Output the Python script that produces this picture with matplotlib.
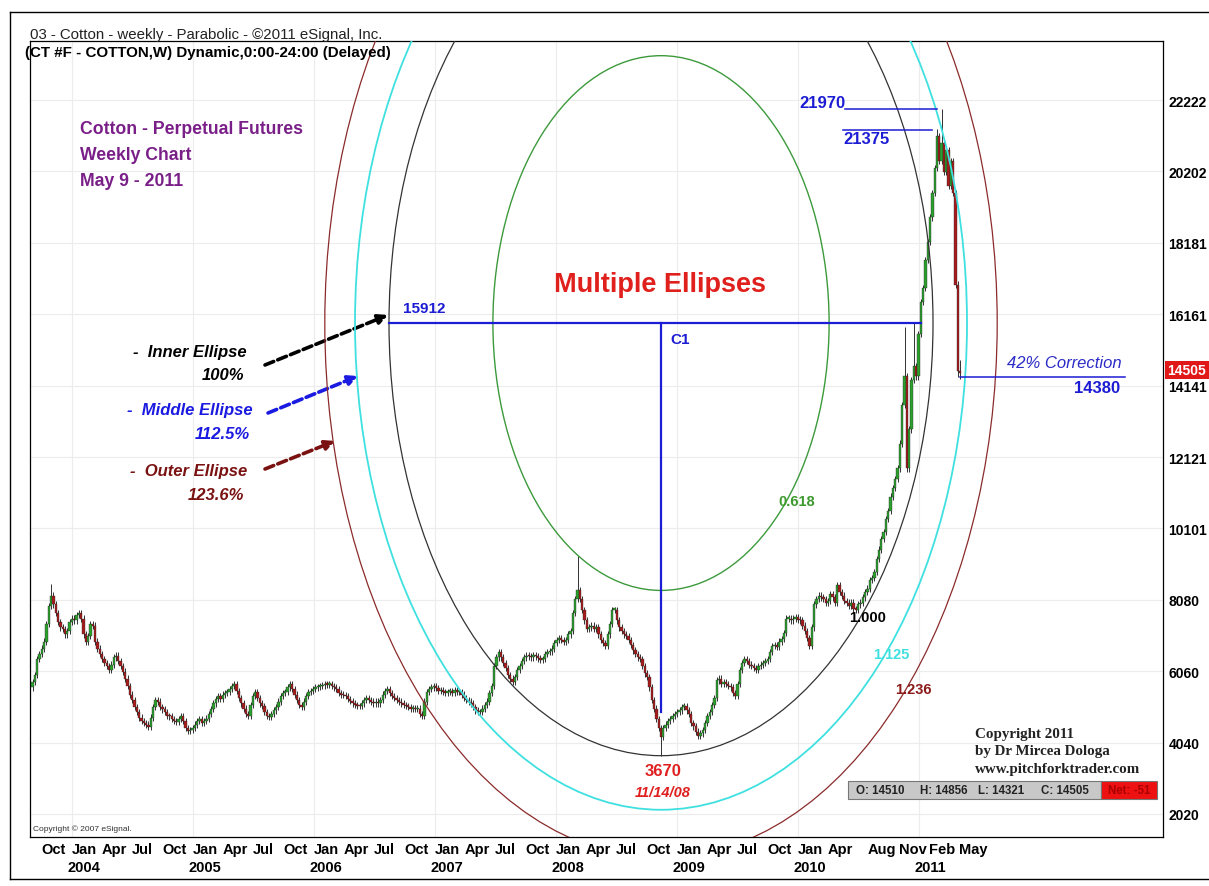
import matplotlib
matplotlib.use("Agg")
import matplotlib.pyplot as plt
import matplotlib.dates as mdates
from matplotlib.patches import Ellipse, Rectangle
from matplotlib.lines import Line2D
import pandas as pd

plt.rcParams['font.family'] = ['Liberation Sans', 'DejaVu Sans']

W, H = 1209, 887

# weekly closes, Sep 2003 .. May 2011
closes = [
    5750, 5950, 6400, 6550, 6700, 6900, 7400, 7900, 8200, 7950,
    7700, 7450, 7300, 7250, 7100, 7200, 7450, 7550, 7500, 7650,
    7700, 7550, 7100, 6900, 7050, 7400, 7350, 6900, 6700, 6550,
    6400, 6300, 6200, 6100, 6250, 6450, 6500, 6350, 6200, 6050,
    5850, 5650, 5400, 5250, 5050, 4900, 4750, 4650, 4600, 4550,
    4480, 4750, 5050, 5250, 5200, 5050, 4980, 4900, 4800, 4780,
    4700, 4650, 4620, 4700, 4780, 4650, 4450, 4370, 4400, 4450,
    4550, 4650, 4700, 4600, 4650, 4720, 4850, 4990, 5150, 5270,
    5350, 5280, 5400, 5450, 5470, 5550, 5650, 5700, 5500, 5300,
    5150, 5000, 4850, 4790, 5100, 5350, 5470, 5300, 5150, 5070,
    4900, 4800, 4760, 4850, 4950, 5050, 5200, 5350, 5450, 5480,
    5600, 5700, 5550, 5400, 5250, 5100, 5050, 5200, 5350, 5470,
    5500, 5550, 5600, 5620, 5640, 5660, 5700, 5680, 5700, 5650,
    5600, 5550, 5450, 5400, 5380, 5350, 5280, 5220, 5150, 5100,
    5080, 5070, 5150, 5250, 5300, 5250, 5200, 5150, 5200, 5150,
    5250, 5400, 5500, 5550, 5450, 5350, 5300, 5250, 5200, 5150,
    5100, 5070, 5050, 5000, 5020, 4990, 5000, 4850, 4790, 5200,
    5470, 5550, 5600, 5640, 5580, 5500, 5520, 5480, 5450, 5480,
    5500, 5450, 5520, 5480, 5480, 5400, 5300, 5250, 5200, 5150,
    5050, 4950, 4900, 4900, 5000, 5100, 5200, 5450, 5650, 6200,
    6450, 6600, 6450, 6300, 6150, 5950, 5850, 5750, 5900, 6100,
    6200, 6350, 6450, 6500, 6480, 6450, 6520, 6480, 6420, 6380,
    6400, 6550, 6600, 6620, 6700, 6850, 6950, 7000, 6950, 6900,
    6950, 7100, 7200, 7700, 8100, 8350, 8100, 7800, 7500, 7250,
    7300, 7350, 7250, 7300, 7100, 6950, 6850, 6770, 7100, 7400,
    7800, 7800, 7500, 7300, 7200, 7100, 7050, 6950, 6800, 6650,
    6550, 6450, 6400, 6200, 6000, 5900, 5600, 5250, 5000, 4700,
    4450, 4200, 4450, 4550, 4650, 4700, 4800, 4850, 4900, 4950,
    5050, 5070, 4950, 4850, 4600, 4500, 4350, 4230, 4300, 4400,
    4600, 4800, 4900, 5100, 5300, 5800, 5850, 5700, 5750, 5700,
    5650, 5600, 5450, 5350, 5700, 6100, 6300, 6400, 6350, 6250,
    6200, 6150, 6100, 6200, 6250, 6300, 6350, 6400, 6600, 6770,
    6800, 6750, 6900, 6970, 7150, 7550, 7550, 7500, 7550, 7600,
    7520, 7500, 7350, 7200, 7000, 6770, 7300, 7950, 8100, 8200,
    8150, 8100, 8000, 8050, 8250, 8150, 8000, 8500, 8300, 8200,
    8050, 8000, 7900, 8000, 7820, 7800, 7950, 8000, 8150, 8300,
    8400, 8650, 8700, 8860, 9230, 9500, 9800, 10000, 10360, 10600,
    11000, 11250, 11500, 11800, 12500, 13600, 14400, 11800, 12900, 14300,
    14700, 14400, 15600, 16500, 16900, 17700, 18200, 18900, 19600, 20300,
    21200, 20500, 21000, 20200, 20800, 19800, 20500, 19600, 17000, 14556,
    14505,
]
first_open = 5600
last_open = 14510
spike_highs = {8: 8520, 235: 9320, 376: 15800, 380: 15940, 390: 21400, 392: 21970, 400: 14856}
spike_lows = {271: 3670, 399: 14380, 400: 14321}
WICK = 90

dates = pd.date_range('2003-09-05', periods=len(closes), freq='7D')

y_ticks = [2020, 4040, 6060, 8080, 10101, 12121, 14141, 16161, 18181, 20202, 22222]

month_ticks = [('2003-10-01', 'Oct')]
for yr in range(2004, 2010):
    month_ticks += [(f'{yr}-01-01', 'Jan'), (f'{yr}-04-01', 'Apr'),
                    (f'{yr}-07-01', 'Jul'), (f'{yr}-10-01', 'Oct')]
month_ticks += [('2010-01-01', 'Jan'), ('2010-04-01', 'Apr'), ('2010-08-01', 'Aug'),
                ('2010-11-01', 'Nov'), ('2011-02-01', 'Feb'), ('2011-05-01', 'May')]
years = [2004, 2005, 2006, 2007, 2008, 2009, 2010, 2011]

# ellipse setup
c1_date = '2008-11-14'
c1_price = 15912
low_price = 3670
half_width_days = 821
ratios = [0.618, 1.0, 1.125, 1.236]
ell_colors = ['#3c9a3c', '#333333', '#3fe0e0', '#8b2b2b']
ell_widths = [1.0, 0.9, 1.3, 0.9]
blue = '#1c1cd4'

fig = plt.figure(figsize=(W / 100, H / 100), dpi=100)
ax = fig.add_axes([30 / W, 1 - 838 / H, (1163 - 30) / W, (838 - 42) / H])

anchor = mdates.date2num(pd.Timestamp(c1_date))
ax.set_xlim(anchor - 1904.6, anchor + 1515.2)
ax.set_ylim(1369, 23893)

# faint grid
for t in y_ticks:
    ax.axhline(t, color='#ececec', lw=0.8, zorder=0)
for yr in years:
    ax.axvline(mdates.date2num(pd.Timestamp(f'{yr}-01-01')), color='#ececec', lw=0.8, zorder=0)

# candles
xs = mdates.date2num(dates)
opens = [first_open] + closes[:-1]
opens[-1] = last_open
highs, lows, bots, hts, cols = [], [], [], [], []
for i, (o, c) in enumerate(zip(opens, closes)):
    highs.append(spike_highs.get(i, max(o, c) + WICK))
    lows.append(spike_lows.get(i, min(o, c) - WICK))
    bots.append(min(o, c))
    hts.append(max(abs(c - o), 40))
    cols.append('#2c9f2c' if c >= o else '#a81c1c')
ax.vlines(xs, lows, highs, color='#111111', lw=0.6, zorder=3)
ax.bar(xs, hts, bottom=bots, width=7, color=cols, edgecolor='#222222', lw=0.25, zorder=4)

# ellipses
for r, col, lw in zip(ratios, ell_colors, ell_widths):
    ax.add_patch(Ellipse((anchor, c1_price), 2 * half_width_days * r,
                         2 * (c1_price - low_price) * r, fill=False,
                         ec=col, lw=lw, zorder=5))

# blue construction lines
d = lambda s: mdates.date2num(pd.Timestamp(s))
ax.plot([anchor - half_width_days, d('2011-01-07')], [c1_price, c1_price], color=blue, lw=1.6, zorder=6)
ax.plot([anchor, anchor], [c1_price, 4900], color=blue, lw=1.6, zorder=6)
ax.plot([d('2010-05-22'), d('2011-02-25')], [21970, 21970], color=blue, lw=1.1, zorder=6)
ax.plot([d('2010-05-16'), d('2011-02-11')], [21375, 21375], color=blue, lw=1.1, zorder=6)
ax.plot([d('2011-05-06'), d('2012-09-13')], [14380, 14380], color=blue, lw=1.1, zorder=6)

# axes styling
ax.set_xticks([])
ax.yaxis.tick_right()
ax.set_yticks(y_ticks)
ax.set_yticklabels([str(t) for t in y_ticks], fontsize=10, fontweight='bold')
ax.tick_params(axis='y', length=0, pad=4)
for s in ax.spines.values():
    s.set_linewidth(0.9)

xt = ax.get_xaxis_transform()
for ds, lab in month_ticks:
    ax.text(d(ds), -0.015, lab, transform=xt, ha='left', va='center',
            fontsize=10.5, fontweight='bold', clip_on=False)
for yr in years:
    ax.text(d(f'{yr}-01-01') + 36, -0.038, str(yr), transform=xt, ha='center', va='center',
            fontsize=10.5, fontweight='bold', clip_on=False)


def ft(x, y, s, **kw):
    fig.text(x / W, 1 - y / H, s, **kw)


def frect(x0, y0, x1, y1, **kw):
    fig.add_artist(Rectangle((x0 / W, 1 - y1 / H), (x1 - x0) / W, (y1 - y0) / H,
                             transform=fig.transFigure, **kw))


# outer frame
fig.add_artist(Line2D([10 / W, 1], [1 - 13 / H] * 2, color='black', lw=1, transform=fig.transFigure))
fig.add_artist(Line2D([10 / W, 10 / W], [1 - 13 / H, 1 - 880 / H], color='black', lw=1, transform=fig.transFigure))
fig.add_artist(Line2D([10 / W, 1], [1 - 880 / H] * 2, color='black', lw=1, transform=fig.transFigure))

ft(30, 35, '03 - Cotton - weekly - Parabolic - \u00a92011 eSignal, Inc.', fontsize=10.8, va='center', color='#222222')
ft(25, 53, '(CT #F - COTTON,W) Dynamic,0:00-24:00 (Delayed)', fontsize=10.9, fontweight='bold', va='center')

purple = '#7a1f88'
for yy, s in zip([130, 155, 182], ['Cotton - Perpetual Futures', 'Weekly Chart', 'May 9 - 2011']):
    ft(80, yy, s, fontsize=12.7, fontweight='bold', color=purple, va='center')

ft(660, 285, 'Multiple Ellipses', fontsize=19.5, fontweight='bold', color='#e0201c', ha='center', va='center')
ft(403, 309, '15912', fontsize=11, fontweight='bold', color=blue, va='center')
ft(670, 340, 'C1', fontsize=11, fontweight='bold', color=blue, va='center')

legend_rows = [
    ('-  Inner Ellipse', '100%', 'black', 247, 353, 375),
    ('-  Middle Ellipse', '112.5%', '#1a1ae0', 253, 411, 435),
    ('-  Outer Ellipse', '123.6%', '#7a1212', 247, 472, 495),
]
for s1, s2, col, xr, y1, y2 in legend_rows:
    ft(xr, y1, s1, fontsize=12, fontweight='bold', style='italic', color=col, ha='right', va='center')
    ft(xr - 3, y2, s2, fontsize=12, fontweight='bold', style='italic', color=col, ha='right', va='center')

for (x0, y0, x1, y1), col in zip([(265, 366, 388, 316), (268, 414, 358, 377), (265, 470, 335, 442)],
                                  ['black', '#1a1ae0', '#7a1212']):
    ax.annotate('', xy=(x1, H - y1), xytext=(x0, H - y0), xycoords='figure pixels',
                textcoords='figure pixels',
                arrowprops=dict(arrowstyle='-|>', color=col, lw=2.6, ls=(0, (2.6, 1.2)),
                                mutation_scale=14, shrinkA=0, shrinkB=0))

ft(797, 502, '0.618', fontsize=10.5, fontweight='bold', color='#3c9a2c', ha='center', va='center')
ft(868, 618, '1.000', fontsize=10.5, fontweight='bold', color='black', ha='center', va='center')
ft(891, 655, '1.125', fontsize=10.5, fontweight='bold', color='#40e0e0', ha='center', va='center')
ft(913, 690, '1.236', fontsize=10.5, fontweight='bold', color='#8b1a1a', ha='center', va='center')

ft(663, 772, '3670', fontsize=12, fontweight='bold', color='#e02020', ha='center', va='center')
ft(663, 793, '11/14/08', fontsize=10.5, fontweight='bold', style='italic', color='#e02020', ha='center', va='center')

ft(845, 104, '21970', fontsize=12, fontweight='bold', color=blue, ha='right', va='center')
ft(843, 140, '21375', fontsize=12, fontweight='bold', color=blue, ha='left', va='center')
ft(1122, 364, '42% Correction', fontsize=12, style='italic', color='#2b2bc8', ha='right', va='center')
ft(1120, 389, '14380', fontsize=12, fontweight='bold', color=blue, ha='right', va='center')

for yy, s in zip([735, 752, 770], ['Copyright 2011', 'by Dr Mircea Dologa', 'www.pitchforktrader.com']):
    ft(975, yy, s, fontsize=10.8, fontweight='bold', family='Liberation Serif', color='#222222', va='center')

# OHLC status bar
frect(848, 782, 1101, 800, facecolor='#c8c8c8', edgecolor='#777777', lw=0.8)
frect(1101, 782, 1157, 800, facecolor='#ee1111', edgecolor='#777777', lw=0.8)
for xx, s in zip([856, 920, 978, 1041], ['O: 14510', 'H: 14856', 'L: 14321', 'C: 14505']):
    ft(xx, 791, s, fontsize=8.3, fontweight='bold', color='#222222', va='center')
ft(1129, 791, 'Net: -51', fontsize=8.3, fontweight='bold', color='#aa0000', ha='center', va='center')

# last price marker on the axis
frect(1165, 362, 1209, 380, facecolor='#e01818', edgecolor='none')
ft(1187, 371, '14505', fontsize=10, fontweight='bold', color='white', ha='center', va='center')

ft(33, 829, 'Copyright \u00a9 2007 eSignal.', fontsize=6, color='#333333', va='center')

fig.savefig('out.png', dpi=100)
